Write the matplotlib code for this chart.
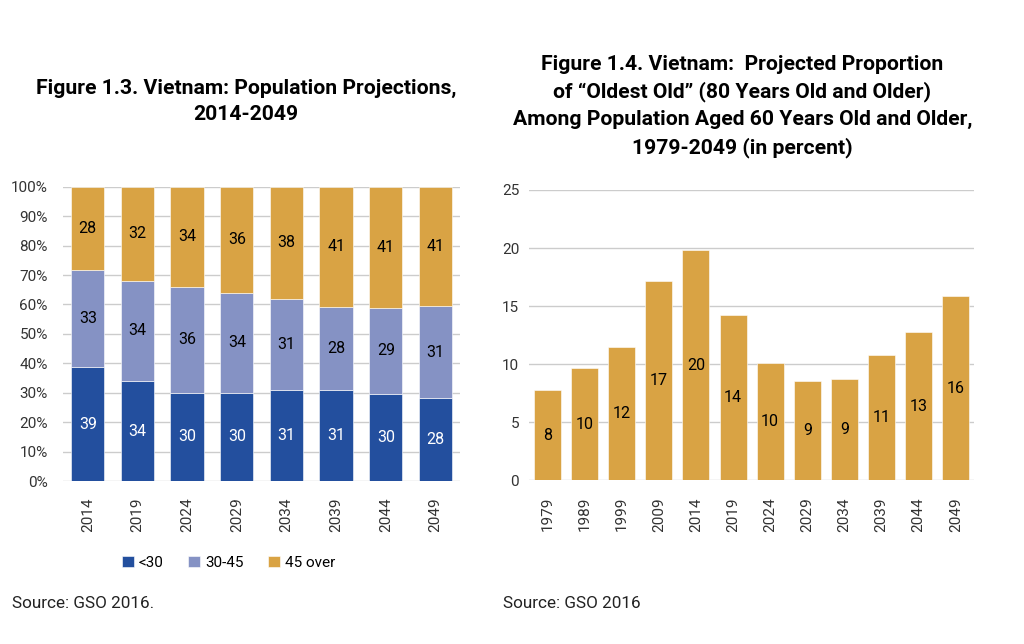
import matplotlib
matplotlib.use('Agg')
import matplotlib.pyplot as plt
import numpy as np

plt.rcParams['font.family'] = ['Roboto', 'DejaVu Sans']

# Figure 1.3 data (percent shares)
years_left = ['2014', '2019', '2024', '2029', '2034', '2039', '2044', '2049']
under30 = [38.6, 34.0, 30.0, 30.0, 30.8, 30.8, 29.7, 28.3]
age30_45 = [33.0, 34.0, 36.0, 34.0, 31.2, 28.4, 29.0, 31.1]
over45 = [28.4, 32.0, 34.0, 36.0, 38.0, 40.8, 41.3, 40.6]
series_names = ['<30', '30-45', '45 over']

# Figure 1.4 data (percent)
years_right = ['1979', '1989', '1999', '2009', '2014', '2019',
               '2024', '2029', '2034', '2039', '2044', '2049']
oldest_old = [7.8, 9.7, 11.5, 17.2, 19.8, 14.2, 10.1, 8.6, 8.7, 10.8, 12.8, 15.9]

c_blue = '#234F9E'
c_lav = '#8592C4'
c_gold = '#D9A344'
tick_col = '#333333'
grid_col = '#CCCCCC'

fig = plt.figure(figsize=(10.24, 6.44), dpi=100)

# ---- left chart
ax1 = fig.add_axes([0.0615, 0.253, 0.388, 0.457])
x = np.arange(len(years_left))
w = 0.67
colors = [c_blue, c_lav, c_gold]
bottom = np.zeros(len(x))
handles = []
for vals, col, name in zip([under30, age30_45, over45], colors, series_names):
    bars = ax1.bar(x, vals, w, bottom=bottom, color=col, label=name,
                   edgecolor='white', linewidth=0.4, zorder=3)
    handles.append(bars)
    txtcol = 'white' if col == c_blue else 'black'
    for xi, b, v in zip(x, bottom, vals):
        ax1.text(xi, b + v / 2, f'{round(v)}', ha='center', va='center',
                 fontsize=11.5, color=txtcol, zorder=4)
    bottom = bottom + np.array(vals)

ax1.set_xlim(-0.5, len(x) - 0.5)
ax1.set_ylim(0, 100)
ax1.set_yticks(np.arange(0, 101, 10))
ax1.set_yticklabels([f'{v}%' for v in range(0, 101, 10)])
ax1.set_xticks(x)
ax1.set_xticklabels(years_left, rotation=90)
ax1.yaxis.grid(True, color=grid_col, linewidth=1, zorder=0)
ax1.set_axisbelow(True)
for s in ax1.spines.values():
    s.set_visible(False)
ax1.tick_params(axis='both', length=0, labelsize=11, labelcolor=tick_col)
ax1.tick_params(axis='y', pad=11)
ax1.tick_params(axis='x', pad=12)

fig.legend(handles, series_names, loc='center', bbox_to_anchor=(0.223, 0.126),
           ncol=3, frameon=False, fontsize=11, handlelength=0.8,
           handleheight=0.8, columnspacing=1.6, handletextpad=0.3)

fig.text(0.240, 0.842, 'Figure 1.3. Vietnam: Population Projections,\n2014-2049',
         ha='center', va='center', fontsize=15.2, fontweight='bold',
         linespacing=1.45)
fig.text(0.012, 0.063, 'Source: GSO 2016.', fontsize=12.3, color='#222222',
         va='center')

# ---- right chart
ax2 = fig.add_axes([0.5165, 0.254, 0.435, 0.451])
x2 = np.arange(len(years_right))
ax2.bar(x2, oldest_old, 0.73, color=c_gold, edgecolor='white',
        linewidth=0.4, zorder=3)
for xi, v in zip(x2, oldest_old):
    ax2.text(xi, v / 2, f'{round(v)}', ha='center', va='center',
             fontsize=11.5, color='black', zorder=4)
ax2.set_xlim(-0.5, len(x2) - 0.5)
ax2.set_ylim(0, 25)
ax2.set_yticks(range(0, 26, 5))
ax2.set_xticks(x2)
ax2.set_xticklabels(years_right, rotation=90)
ax2.yaxis.grid(True, color=grid_col, linewidth=1, zorder=0)
ax2.set_axisbelow(True)
for s in ax2.spines.values():
    s.set_visible(False)
ax2.tick_params(axis='both', length=0, labelsize=11, labelcolor=tick_col)
ax2.tick_params(axis='y', pad=7)
ax2.tick_params(axis='x', pad=12)

fig.text(0.725, 0.835,
         'Figure 1.4. Vietnam:  Projected Proportion\n'
         'of \u201cOldest Old\u201d (80 Years Old and Older)\n'
         'Among Population Aged 60 Years Old and Older,\n'
         '1979-2049 (in percent)',
         ha='center', va='center', fontsize=15.2, fontweight='bold',
         linespacing=1.5)
fig.text(0.491, 0.063, 'Source: GSO 2016', fontsize=12.3, color='#222222',
         va='center')

fig.savefig('out.png', dpi=100)
